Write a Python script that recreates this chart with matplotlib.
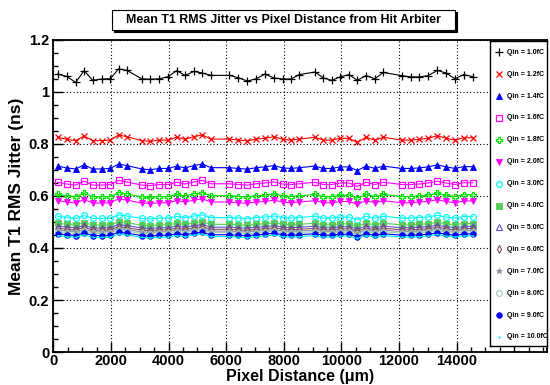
import matplotlib
matplotlib.use("Agg")
import matplotlib.pyplot as plt
from matplotlib.patches import Rectangle
from matplotlib.ticker import MultipleLocator, FixedLocator, FuncFormatter

plt.rcParams['font.family'] = ['Liberation Sans', 'DejaVu Sans']
plt.rcParams['font.weight'] = 'bold'

# ---------------- data ----------------
distance_um = [150, 460, 775, 1065, 1365, 1675, 1975, 2265, 2555, 3065, 3365, 3675,
               3990, 4280, 4570, 4880, 5170, 5470, 6110, 6420, 6735, 7045, 7345,
               7660, 7960, 8250, 8540, 9085, 9370, 9665, 9960, 10265, 10550, 10855,
               11165, 11455, 12095, 12405, 12705, 13015, 13330, 13630, 13945, 14245,
               14560]

q_labels = ["Qin = 1.0fC", "Qin = 1.2fC", "Qin = 1.4fC", "Qin = 1.6fC", "Qin = 1.8fC",
            "Qin = 2.0fC", "Qin = 3.0fC", "Qin = 4.0fC", "Qin = 5.0fC", "Qin = 6.0fC",
            "Qin = 7.0fC", "Qin = 8.0fC", "Qin = 9.0fC", "Qin = 10.0fC"]

jit_1p0 = [1.069, 1.060, 1.037, 1.082, 1.045, 1.050, 1.051, 1.089, 1.083, 1.051, 1.049, 1.051,
           1.059, 1.082, 1.064, 1.079, 1.073, 1.064, 1.064, 1.055, 1.042, 1.051, 1.069, 1.054,
           1.050, 1.050, 1.067, 1.077, 1.054, 1.045, 1.058, 1.067, 1.045, 1.063, 1.051, 1.075,
           1.063, 1.058, 1.058, 1.063, 1.083, 1.073, 1.051, 1.067, 1.059]
jit_1p2 = [0.826, 0.818, 0.813, 0.831, 0.813, 0.813, 0.815, 0.835, 0.828, 0.813, 0.810, 0.815,
           0.815, 0.826, 0.818, 0.828, 0.835, 0.819, 0.819, 0.815, 0.812, 0.819, 0.822, 0.828,
           0.818, 0.815, 0.819, 0.826, 0.815, 0.815, 0.822, 0.822, 0.806, 0.826, 0.815, 0.826,
           0.815, 0.815, 0.818, 0.822, 0.832, 0.822, 0.815, 0.824, 0.824]
jit_1p4 = [0.715, 0.708, 0.704, 0.720, 0.704, 0.704, 0.706, 0.723, 0.717, 0.704, 0.701, 0.706,
           0.706, 0.715, 0.708, 0.717, 0.723, 0.709, 0.709, 0.706, 0.703, 0.709, 0.712, 0.717,
           0.708, 0.706, 0.709, 0.715, 0.706, 0.706, 0.712, 0.712, 0.698, 0.715, 0.706, 0.715,
           0.706, 0.706, 0.708, 0.712, 0.720, 0.712, 0.706, 0.713, 0.713]
jit_1p6 = [0.653, 0.646, 0.642, 0.657, 0.642, 0.642, 0.644, 0.660, 0.654, 0.642, 0.640, 0.644,
           0.644, 0.653, 0.646, 0.654, 0.660, 0.647, 0.647, 0.644, 0.642, 0.647, 0.650, 0.654,
           0.646, 0.644, 0.647, 0.653, 0.644, 0.644, 0.650, 0.650, 0.637, 0.653, 0.644, 0.653,
           0.644, 0.644, 0.646, 0.650, 0.657, 0.650, 0.644, 0.651, 0.651]
jit_1p8 = [0.606, 0.601, 0.597, 0.610, 0.597, 0.597, 0.598, 0.613, 0.608, 0.597, 0.595, 0.598,
           0.598, 0.606, 0.601, 0.608, 0.613, 0.601, 0.601, 0.598, 0.596, 0.601, 0.603, 0.608,
           0.601, 0.598, 0.601, 0.606, 0.598, 0.598, 0.603, 0.603, 0.592, 0.606, 0.598, 0.606,
           0.598, 0.598, 0.601, 0.603, 0.611, 0.603, 0.598, 0.605, 0.605]
jit_2p0 = [0.582, 0.577, 0.573, 0.586, 0.573, 0.573, 0.574, 0.589, 0.584, 0.573, 0.571, 0.574,
           0.574, 0.582, 0.577, 0.584, 0.589, 0.577, 0.577, 0.574, 0.572, 0.577, 0.579, 0.584,
           0.577, 0.574, 0.577, 0.582, 0.574, 0.574, 0.579, 0.579, 0.568, 0.582, 0.574, 0.582,
           0.574, 0.574, 0.577, 0.579, 0.586, 0.579, 0.574, 0.581, 0.581]
jit_3p0 = [0.522, 0.517, 0.514, 0.525, 0.514, 0.514, 0.515, 0.527, 0.523, 0.514, 0.512, 0.515,
           0.515, 0.522, 0.517, 0.523, 0.527, 0.517, 0.517, 0.515, 0.513, 0.517, 0.519, 0.523,
           0.517, 0.515, 0.517, 0.522, 0.515, 0.515, 0.519, 0.519, 0.509, 0.522, 0.515, 0.522,
           0.515, 0.515, 0.517, 0.519, 0.526, 0.519, 0.515, 0.521, 0.521]
jit_4p0 = [0.495, 0.491, 0.488, 0.498, 0.488, 0.488, 0.489, 0.501, 0.497, 0.488, 0.486, 0.489,
           0.489, 0.495, 0.491, 0.497, 0.501, 0.491, 0.491, 0.489, 0.487, 0.491, 0.493, 0.497,
           0.491, 0.489, 0.491, 0.495, 0.489, 0.489, 0.493, 0.493, 0.484, 0.495, 0.489, 0.495,
           0.489, 0.489, 0.491, 0.493, 0.499, 0.493, 0.489, 0.494, 0.494]
jit_5p0 = [0.484, 0.480, 0.477, 0.487, 0.477, 0.477, 0.478, 0.490, 0.486, 0.477, 0.475, 0.478,
           0.478, 0.484, 0.480, 0.486, 0.490, 0.480, 0.480, 0.478, 0.476, 0.480, 0.482, 0.486,
           0.480, 0.478, 0.480, 0.484, 0.478, 0.478, 0.482, 0.482, 0.473, 0.484, 0.478, 0.484,
           0.478, 0.478, 0.480, 0.482, 0.488, 0.482, 0.478, 0.483, 0.483]
jit_6p0 = [0.476, 0.472, 0.469, 0.479, 0.469, 0.469, 0.470, 0.482, 0.478, 0.469, 0.467, 0.470,
           0.470, 0.476, 0.472, 0.478, 0.482, 0.472, 0.472, 0.470, 0.468, 0.472, 0.474, 0.478,
           0.472, 0.470, 0.472, 0.476, 0.470, 0.470, 0.474, 0.474, 0.465, 0.476, 0.470, 0.476,
           0.470, 0.470, 0.472, 0.474, 0.480, 0.474, 0.470, 0.475, 0.475]
jit_7p0 = [0.469, 0.465, 0.462, 0.472, 0.462, 0.462, 0.463, 0.475, 0.471, 0.462, 0.460, 0.463,
           0.463, 0.469, 0.465, 0.471, 0.475, 0.465, 0.465, 0.463, 0.461, 0.465, 0.467, 0.471,
           0.465, 0.463, 0.465, 0.469, 0.463, 0.463, 0.467, 0.467, 0.458, 0.469, 0.463, 0.469,
           0.463, 0.463, 0.465, 0.467, 0.473, 0.467, 0.463, 0.468, 0.468]
jit_8p0 = [0.463, 0.459, 0.456, 0.466, 0.456, 0.456, 0.457, 0.469, 0.465, 0.456, 0.454, 0.457,
           0.457, 0.463, 0.459, 0.465, 0.469, 0.459, 0.459, 0.457, 0.455, 0.459, 0.461, 0.465,
           0.459, 0.457, 0.459, 0.463, 0.457, 0.457, 0.461, 0.461, 0.452, 0.463, 0.457, 0.463,
           0.457, 0.457, 0.459, 0.461, 0.467, 0.461, 0.457, 0.462, 0.462]
jit_9p0 = [0.455, 0.451, 0.448, 0.458, 0.448, 0.448, 0.449, 0.461, 0.457, 0.448, 0.446, 0.449,
           0.449, 0.455, 0.451, 0.457, 0.461, 0.451, 0.451, 0.449, 0.447, 0.451, 0.453, 0.457,
           0.451, 0.449, 0.451, 0.455, 0.449, 0.449, 0.453, 0.453, 0.444, 0.455, 0.449, 0.455,
           0.449, 0.449, 0.451, 0.453, 0.459, 0.453, 0.449, 0.454, 0.454]
jit_10p0 = [0.448, 0.444, 0.441, 0.451, 0.441, 0.441, 0.442, 0.454, 0.450, 0.441, 0.439, 0.442,
            0.442, 0.448, 0.444, 0.450, 0.454, 0.444, 0.444, 0.442, 0.440, 0.444, 0.446, 0.450,
            0.444, 0.442, 0.444, 0.448, 0.442, 0.442, 0.446, 0.446, 0.437, 0.448, 0.442, 0.448,
            0.442, 0.442, 0.444, 0.446, 0.452, 0.446, 0.442, 0.447, 0.447]

series = [jit_1p0, jit_1p2, jit_1p4, jit_1p6, jit_1p8, jit_2p0, jit_3p0,
          jit_4p0, jit_5p0, jit_6p0, jit_7p0, jit_8p0, jit_9p0, jit_10p0]

# ---------------- styles: (color, marker, filled, markersize, mew) ----------------
styles = [
    ("#000000", "+", True, 5.5, 0.9),
    ("#ff0000", "x", True, 4.5, 0.9),
    ("#0000ff", "^", True, 4.0, 0.6),
    ("#ff00ff", "s", False, 4.2, 0.9),
    ("#00e000", "P", False, 5.0, 0.9),
    ("#ff00ff", "v", True, 4.0, 0.6),
    ("#00ffff", "o", False, 4.2, 0.9),
    ("#55cc55", "s", True, 4.2, 0.6),
    ("#5a55d8", "^", False, 4.2, 0.8),
    ("#8a4a5a", "d", False, 4.0, 0.8),
    ("#8888a8", "*", True, 4.0, 0.5),
    ("#99ccaa", "o", False, 4.2, 0.8),
    ("#0000ff", "o", True, 4.0, 0.6),
    ("#00e8e8", ".", True, 2.0, 0.5),
]

W, H = 550, 385
fig = plt.figure(figsize=(W / 100, H / 100), dpi=100)

ax_l, ax_r, ax_t, ax_b = 53.4, 547, 40, 352
ax = fig.add_axes([ax_l / W, 1 - ax_b / H, (ax_r - ax_l) / W, (ax_b - ax_t) / H])

for vals, (c, m, filled, ms, mew) in zip(series, styles):
    ax.plot(distance_um, vals, color=c, lw=0.8, marker=m, ms=ms, mew=mew,
            mfc=(c if filled else 'none'), mec=c, zorder=3)

ax.set_xlim(0, (ax_r - ax_l) / 0.0288)
ax.set_ylim(0, 1.2)
ax.xaxis.set_major_locator(FixedLocator([0, 2000, 4000, 6000, 8000, 10000, 12000, 14000, 16000]))
ax.xaxis.set_major_formatter(FuncFormatter(lambda v, p: '' if v > 15000 else f"{int(v)}"))
ax.xaxis.set_minor_locator(MultipleLocator(500))
ax.yaxis.set_major_locator(MultipleLocator(0.2))
ax.yaxis.set_minor_locator(MultipleLocator(0.05))
ax.yaxis.set_major_formatter(FuncFormatter(lambda v, p: '0' if abs(v) < 1e-9 else ('1' if abs(v - 1) < 1e-9 else f"{v:.1f}")))
ax.tick_params(which='major', direction='in', length=7.5, width=1.0, labelsize=10.5, pad=3)
ax.tick_params(axis='x', which='major', pad=1.5)
ax.tick_params(which='minor', direction='in', length=3.5, width=1.0)
for lab in ax.get_xticklabels() + ax.get_yticklabels():
    lab.set_fontweight('bold')
ax.grid(True, which='major', linestyle=(0, (1, 2)), color='black', lw=0.8, zorder=1)
for s in ax.spines.values():
    s.set_linewidth(1.3)
ax.set_ylabel("Mean T1 RMS Jitter (ns)", fontsize=12.5, fontweight='bold', labelpad=3)
fig.text((ax_l + ax_r) / 2 / W, 0.5 / H, "Pixel Distance (\u03bcm)",
         ha='center', va='bottom', fontsize=11.5, fontweight='bold')

# ---------------- title box ----------------
tb_l, tb_r, tb_t, tb_b = 111.5, 455, 9.5, 30
fig.add_artist(Rectangle((tb_l / W + 2 / W, 1 - tb_b / H - 2 / H), (tb_r - tb_l) / W, (tb_b - tb_t) / H,
                         transform=fig.transFigure, facecolor='black', edgecolor='black', lw=0.8))
fig.add_artist(Rectangle((tb_l / W, 1 - tb_b / H), (tb_r - tb_l) / W, (tb_b - tb_t) / H,
                         transform=fig.transFigure, facecolor='white', edgecolor='black', lw=0.8))
fig.text((tb_l + tb_r) / 2 / W, 1 - (tb_t + tb_b) / 2 / H,
         "Mean T1 RMS Jitter vs Pixel Distance from Hit Arbiter",
         ha='center', va='center', fontsize=8.9, fontweight='bold')

# ---------------- legend box ----------------
lg_l, lg_r, lg_t, lg_b = 490, 547, 41, 346
lax = fig.add_axes([lg_l / W, 1 - lg_b / H, (lg_r - lg_l) / W, (lg_b - lg_t) / H])
lax.set_xlim(lg_l, lg_r)
lax.set_ylim(lg_b, lg_t)
lax.set_xticks([])
lax.set_yticks([])
lax.set_facecolor('white')
for s in lax.spines.values():
    s.set_linewidth(1.0)
y0, dy = 52.3, 21.9
for i, (lab, (c, m, filled, ms, mew)) in enumerate(zip(q_labels, styles)):
    yy = y0 + i * dy
    lax.plot([499], [yy], marker=m, ms=ms, mew=mew, color=c,
             mfc=(c if filled else 'none'), mec=c, linestyle='none')
    lax.text(506.5, yy, lab, fontsize=5.0, fontweight='bold', va='center', ha='left')

fig.savefig("out.png", dpi=100)
